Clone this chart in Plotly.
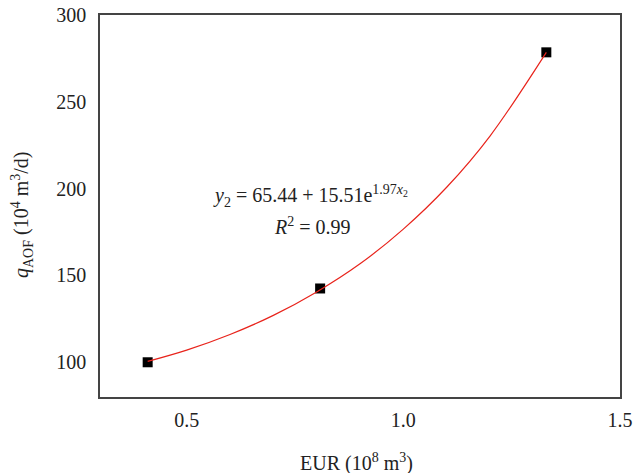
import plotly.graph_objects as go

# Measured data points
eur = [0.41, 0.808, 1.33]
qaof = [100.0, 142.5, 278.5]

# Fitted curve, values
fit_x = [0.41, 0.5, 0.6, 0.7, 0.8, 0.9, 1.0, 1.1, 1.2, 1.33]
fit_y = [100.5, 107.0, 116.0, 127.0, 140.5, 156.7, 176.7, 200.8, 230.3, 278.5]

x_ticks = [0.5, 1.0, 1.5]
x_tick_text = ["0.5", "1.0", "1.5"]
y_ticks = [100, 150, 200, 250, 300]

FONT = "Liberation Serif, DejaVu Serif, serif"
FS = 20

fig = go.Figure()
fig.add_trace(go.Scatter(x=eur, y=qaof, mode="markers",
                         marker=dict(symbol="square", size=10, color="black"),
                         showlegend=False))
fig.add_trace(go.Scatter(x=fit_x, y=fit_y, mode="lines", line_shape="spline",
                         line=dict(color="#e8231b", width=1.2),
                         showlegend=False))

axis_common = dict(showline=True, linecolor="#444", linewidth=1.5, mirror=True,
                   showgrid=False, zeroline=False, ticks="", automargin=False,
                   tickfont=dict(family=FONT, size=FS, color="#222"))

fig.update_xaxes(range=[0.3, 1.5], tickvals=x_ticks, ticktext=x_tick_text,
                 ticklabelstandoff=4, **axis_common)
fig.update_yaxes(range=[80, 300], tickvals=y_ticks,
                 ticklabelstandoff=8, **axis_common)

W0, W1, H0, H1 = 100, 620, 15, 397
def px(x):
    return (x - W0) / (W1 - W0)
def py(y):
    return (H1 - y) / (H1 - H0)

fig.add_annotation(xref="paper", yref="paper", x=px(356), y=py(462),
                   text="EUR (10<sup>8</sup> m<sup>3</sup>)", showarrow=False,
                   font=dict(family=FONT, size=FS, color="#222"), yanchor="middle")
fig.add_annotation(xref="paper", yref="paper", x=px(22), y=py(215),
                   text="<i>q</i><sub>AOF</sub> (10<sup>4</sup> m<sup>3</sup>/d)", showarrow=False,
                   textangle=-90, font=dict(family=FONT, size=FS, color="#222"),
                   xanchor="center", yanchor="middle")
fig.add_annotation(xref="paper", yref="paper", x=px(310), y=py(196),
                   text="<i>y</i><sub>2</sub> = 65.44 + 15.51e<sup>1.97<i>x</i><sub>2</sub></sup>",
                   showarrow=False, font=dict(family=FONT, size=FS, color="#222"))
fig.add_annotation(xref="paper", yref="paper", x=px(312), y=py(226),
                   text="<i>R</i><sup>2</sup> = 0.99",
                   showarrow=False, font=dict(family=FONT, size=FS, color="#222"))

fig.update_layout(width=634, height=473, paper_bgcolor="white", plot_bgcolor="white",
                  margin=dict(l=W0, r=634 - W1, t=H0, b=473 - H1),
                  font=dict(family=FONT, size=FS, color="#222"))

fig.write_html("out.html", config={"displayModeBar": False},
               post_script="document.body.style.margin='0';")
